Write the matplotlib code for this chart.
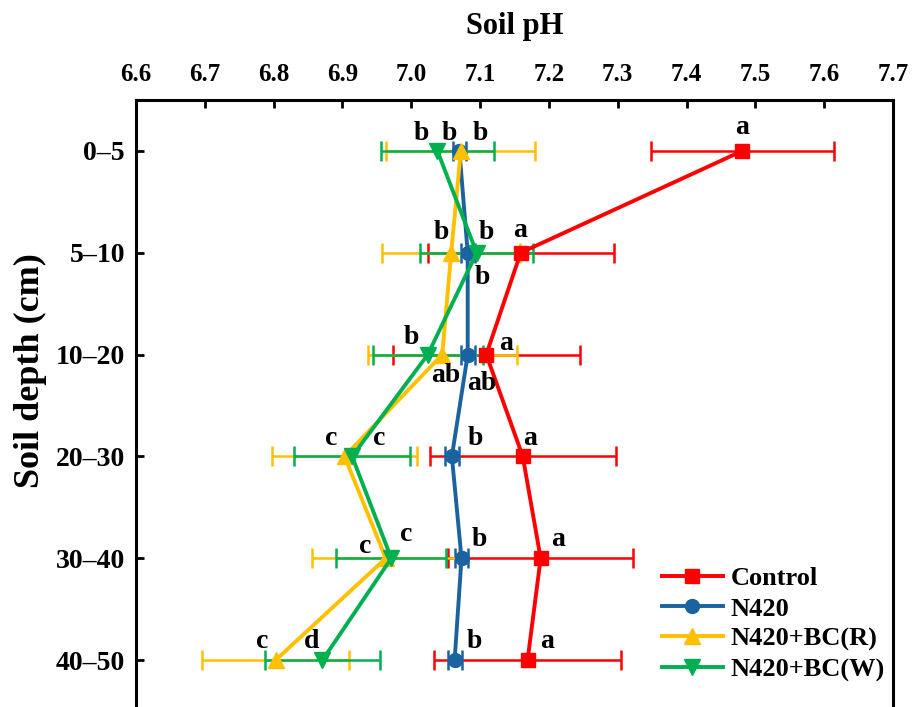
import matplotlib
matplotlib.use("Agg")
import matplotlib.pyplot as plt
from matplotlib.lines import Line2D

plt.rcParams['font.family'] = ['Liberation Serif', 'DejaVu Serif']
plt.rcParams['font.weight'] = 'bold'

depths = ["0–5", "5–10", "10–20", "20–30", "30–40", "40–50"]
series_names = ["Control", "N420", "N420+BC(R)", "N420+BC(W)"]

control = [7.481, 7.159, 7.109, 7.162, 7.188, 7.169]
control_err = [0.133, 0.135, 0.136, 0.135, 0.134, 0.136]
n420 = [7.070, 7.082, 7.082, 7.059, 7.073, 7.063]
n420_err = [0.010, 0.010, 0.010, 0.010, 0.010, 0.010]
bcr = [7.072, 7.058, 7.045, 6.903, 6.963, 6.803]
bcr_err = [0.108, 0.100, 0.108, 0.106, 0.107, 0.107]
bcw = [7.038, 7.095, 7.024, 6.914, 6.971, 6.871]
bcw_err = [0.082, 0.082, 0.080, 0.084, 0.080, 0.083]

control_letters = ["a", "a", "a", "a", "a", "a"]
n420_letters = ["b", "b", "ab", "b", "b", "b"]
bcr_letters = ["b", "b", "ab", "c", "c", "c"]
bcw_letters = ["b", "b", "b", "c", "c", "d"]

xticks = [6.6, 6.7, 6.8, 6.9, 7.0, 7.1, 7.2, 7.3, 7.4, 7.5, 7.6, 7.7]

# styles / label offsets (pixels)
colors = ["#FF0000", "#1B63A0", "#FFC000", "#00B050"]
markers = ["s", "o", "^", "v"]
msizes = [10, 10, 11, 11]
offsets = [
    [(0, 23), (-1, 22), (20, 11), (7, 18), (17, 19), (19, 19)],
    [(-10, 17), (15, -25), (14, -29), (23, 18), (18, 19), (20, 19)],
    [(20, 17), (-10, 20), (4, -21), (-13, 18), (-21, 12), (-14, 19)],
    [(-16, 17), (10, 20), (-16, 17), (27, 18), (15, 24), (-11, 19)],
]

W, H = 916, 707
fig = plt.figure(figsize=(W / 100, H / 100), dpi=100)
ax = fig.add_axes([136 / W, 1 - 711 / H, 757 / W, 611 / H])

ypos = list(range(len(depths)))
data = [(control, control_err, control_letters),
        (n420, n420_err, n420_letters),
        (bcr, bcr_err, bcr_letters),
        (bcw, bcw_err, bcw_letters)]

handles = []
for i, (vals, errs, letters) in enumerate(data):
    ax.errorbar(vals, ypos, xerr=errs, fmt='none', ecolor=colors[i],
                elinewidth=1.8, capsize=7, capthick=1.8, zorder=2 + i)
    ax.plot(vals, ypos, color=colors[i], lw=2.8, marker=markers[i],
            ms=msizes[i], zorder=6 + i)
    for j, lab in enumerate(letters):
        ax.annotate(lab, (vals[j], ypos[j]), xytext=offsets[i][j],
                    textcoords='offset pixels', ha='center', va='center',
                    fontsize=20, fontweight='bold', zorder=20)
    handles.append(Line2D([], [], color=colors[i], lw=2.8, marker=markers[i],
                          ms=msizes[i]))

ax.set_xlim(6.6, 7.7)
ax.set_ylim(5.5, -0.5)
ax.set_xticks(xticks)
ax.set_xticklabels([f"{t:.1f}" for t in xticks])
ax.set_yticks(ypos)
ax.set_yticklabels(depths)
ax.xaxis.tick_top()
ax.xaxis.set_label_position('top')
ax.tick_params(axis='x', direction='in', length=6, width=2, labelsize=18, pad=10)
ax.tick_params(axis='y', direction='in', length=6, width=2, labelsize=20, pad=8)
for lab in ax.get_xticklabels() + ax.get_yticklabels():
    lab.set_fontweight('bold')
for s in ['top', 'left', 'right']:
    ax.spines[s].set_linewidth(2.2)
ax.spines['bottom'].set_visible(False)

ax.set_xlabel("Soil pH", fontsize=22, fontweight='bold', labelpad=21)
ax.set_ylabel("Soil depth (cm)", fontsize=26, fontweight='bold', va='center')
ax.yaxis.set_label_coords((30 - 136) / 757, (711 - 371) / 611)

leg = ax.legend(handles, series_names, loc='upper left',
                bbox_to_anchor=(662 / W, 1 - 567 / H), bbox_transform=fig.transFigure,
                frameon=False, fontsize=19, handlelength=2.3, handletextpad=0.3,
                labelspacing=0.25, borderpad=0, borderaxespad=0)
for t in leg.get_texts():
    t.set_fontweight('bold')

fig.savefig("out.png", dpi=100)
